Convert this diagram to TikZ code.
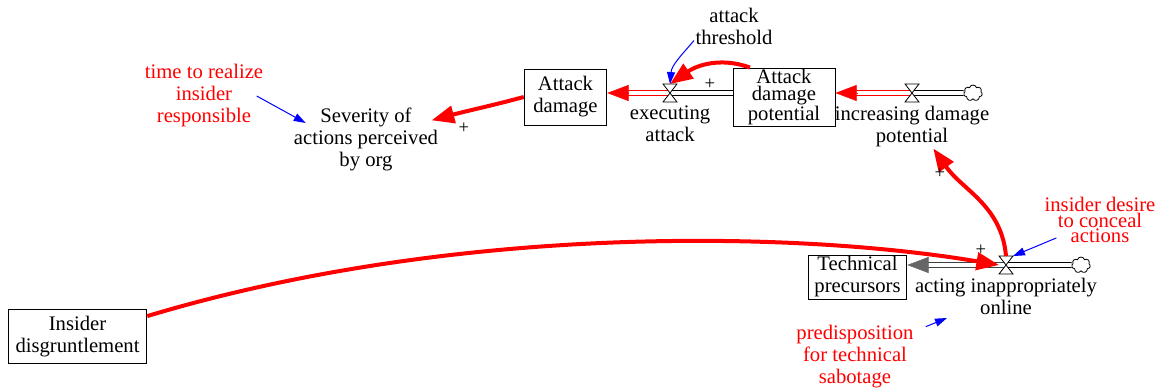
\documentclass[tikz,border=0pt]{standalone}
\usepackage{fontspec}
\setmainfont{Liberation Serif}
\newfontfamily\diagfont{Liberation Serif}
\usetikzlibrary{calc,positioning,arrows.meta,shapes.symbols}
\tikzset{
	level/.style={draw, line width=0.6pt, align=center, inner sep=1pt},
	aux/.style={align=center, inner sep=1pt},
	param/.style={aux, text=red},
	link/.style={draw=red, line width=3pt, -{Triangle[length=17pt,width=13pt]}},
	weak/.style={draw=blue, line width=0.75pt, -{Triangle[length=9pt,width=6pt]}},
	pipe/.style={draw=black, line width=0.7pt, double=white, double distance=2.8pt},
	redpipe/.style={pipe, draw=red},
	greypipe/.style={pipe, draw=black!75},
	pipehead/.style={draw=#1, line width=0.4pt, -{Triangle[length=16pt,width=12pt,fill=#1]}},
	valve/.style={inner sep=0pt, minimum width=10pt, minimum height=13pt},
	sink/.style={cloud, cloud puffs=7, draw, line width=0.6pt, minimum width=14pt, minimum height=12pt, inner sep=0pt, fill=white},
	sign/.style={font=\diagfont\fontsize{14}{14}\selectfont, inner sep=0pt},
}

\begin{document}
\begin{tikzpicture}[x=0.75pt, y=0.75pt, font=\diagfont\fontsize{15.5}{16.5}\selectfont]
	\useasboundingbox (0,0) rectangle (1160,390);

	\node[level, minimum width=62pt, minimum height=42pt] (ad) at (565.5,293) {Attack\\damage};
	\node[level, minimum width=76.5pt, minimum height=42pt, font=\diagfont\fontsize{15.5}{12.4}\selectfont] (adp) at (784,293) {Attack\\damage\\potential};
	\node[level, minimum width=74pt, minimum height=33pt] (tp) at (857.5,113) {Technical\\precursors};
	\node[level, minimum width=104pt, minimum height=40pt] (idg) at (77.5,53.5) {Insider\\disgruntlement};

	\node[valve] (ve) at (670,297) {};
	\node[valve] (vi) at (912,297) {};
	\node[valve] (va) at (1006,125) {};
	\node[sink] (c1) at (973,297) {};
	\node[sink] (c2) at (1081,125) {};

	\node[aux, below=2pt of ve] (vel) {executing\\attack};
	\node[aux, below=2pt of vi] (vil) {increasing damage\\potential};
	\node[aux, below=2pt of va] (val) {acting inappropriately\\online};

	\node[aux] (sev) at (366,251) {Severity of\\actions perceived\\by org};
	\node[aux] (thr) at (734,364) {attack\\threshold};
	\node[param] (tr) at (204,294) {time to realize\\insider\\responsible};
	\node[param, font=\diagfont\fontsize{15.5}{11.8}\selectfont] (des) at (1100,170) {insider desire\\to conceal\\actions};
	\node[param] (pred) at (855,33) {predisposition\\for technical\\sabotage};
	\coordinate (predtip) at (947,72);

	\coordinate (adin) at (ve -| ad.east);
	\coordinate (adpin) at (vi -| adp.east);
	\coordinate (tpin) at (va -| tp.east);

	\draw[redpipe, shorten >=14pt] (ve.center) -- (adin);
	\draw[pipehead=red] ([xshift=16pt]adin) -- (adin);
	\draw[pipe] (ve.center) -- (ve -| adp.west);
	\draw[redpipe, shorten >=14pt] (vi.center) -- (adpin);
	\draw[pipehead=red] ([xshift=16pt]adpin) -- (adpin);
	\draw[pipe] (vi.center) -- (c1);
	\draw[greypipe, shorten >=13pt] (va.center) -- (tpin);
	\draw[pipehead=black!60] ([xshift=15pt]tpin) -- (tpin);
	\draw[pipe] (va.center) -- (c2);

	\foreach \v in {ve,vi,va}
		\draw[line width=0.6pt, fill=white] (\v.north west) -- (\v.north east) -- (\v.south west) -- (\v.south east) -- cycle;

	\draw[link] ([xshift=13pt]adp.north west) to[out=160, in=35] (ve.north);
	\draw[link] (ad.west) to[out=195, in=15] ([xshift=-6pt,yshift=14pt]sev.east);
	\draw[link] (va.north) to[out=95, in=-55] ([xshift=16pt]vil.south);
	\draw[link] ([yshift=-5pt]idg.north east) .. controls (450,165) and (790,160) .. (va.west);

	\draw[weak] ([yshift=4pt]thr.south west) to[out=-130, in=85] (ve.north);
	\draw[weak] ([xshift=-6pt]tr.east) -- ([xshift=10pt,yshift=12pt]sev.west);
	\draw[weak] ([xshift=10pt,yshift=5pt]des.south west) -- (va.north east);
	\draw[weak] ([xshift=8pt,yshift=-2pt]pred.north east) -- (predtip);

	\node[sign] (p1) at (710,306) {+};
	\node[sign] (p2) at (464,262) {+};
	\node[sign] (p3) at (940,217) {+};
	\node[sign] (p4) at (981,140) {+};
\end{tikzpicture}
\end{document}
